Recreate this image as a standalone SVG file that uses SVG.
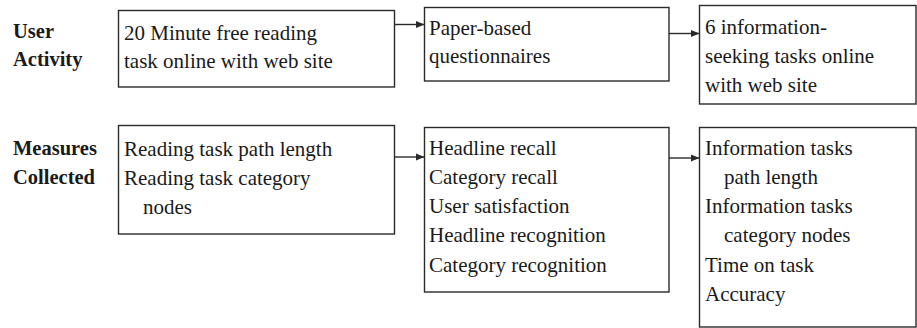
<svg xmlns="http://www.w3.org/2000/svg" width="917" height="328" viewBox="0 0 917 328">
  <style>
    .box { fill: #fff; stroke: #2a2a2a; stroke-width: 1.4; }
    .t { font-family: "Times New Roman", "Liberation Serif", Tinos, "DejaVu Serif", serif; font-size: 21px; fill: #1a1a1a; }
    .lbl { font-family: "Times New Roman", "Liberation Serif", Tinos, "DejaVu Serif", serif; font-size: 20.5px; font-weight: bold; fill: #1a1a1a; }
    .conn { stroke: #2a2a2a; stroke-width: 1.4; fill: none; marker-end: url(#arrow); }
  </style>
  <defs>
    <marker id="arrow" viewBox="0 0 10 10" refX="10" refY="5" markerWidth="9" markerHeight="9" markerUnits="userSpaceOnUse" orient="auto">
      <path d="M0,1 L10,5 L0,9 Z" fill="#2a2a2a"/>
    </marker>
  </defs>
  <rect width="917" height="328" fill="#fff"/>

  <!-- row labels -->
  <g id="label-user-activity">
    <text class="lbl" x="13" y="38">User</text>
    <text class="lbl" x="13" y="66">Activity</text>
  </g>
  <g id="label-measures">
    <text class="lbl" x="13" y="155">Measures</text>
    <text class="lbl" x="13" y="184">Collected</text>
  </g>

  <!-- activity row -->
  <g id="reading-task">
    <rect class="box" x="118.5" y="10.5" width="276" height="76.5"/>
    <text class="t" x="124" y="40">20 Minute free reading</text>
    <text class="t" x="124" y="68">task online with web site</text>
  </g>
  <g id="questionnaires">
    <rect class="box" x="424.5" y="7.5" width="244.5" height="73.5"/>
    <text class="t" x="429" y="35">Paper-based</text>
    <text class="t" x="429" y="63">questionnaires</text>
  </g>
  <g id="info-tasks">
    <rect class="box" x="699.5" y="5.5" width="216.5" height="98.5"/>
    <text class="t" x="705" y="34">6 information-</text>
    <text class="t" x="705" y="63">seeking tasks online</text>
    <text class="t" x="705" y="92">with web site</text>
  </g>

  <!-- measures row -->
  <g id="reading-measures">
    <rect class="box" x="118.5" y="125.5" width="276" height="108.5"/>
    <text class="t" x="124" y="156">Reading task path length</text>
    <text class="t" x="124" y="185">Reading task category</text>
    <text class="t" x="143" y="214">nodes</text>
  </g>
  <g id="questionnaire-measures">
    <rect class="box" x="424.5" y="127.5" width="244.5" height="164.5"/>
    <text class="t" x="429" y="155">Headline recall</text>
    <text class="t" x="429" y="184">Category recall</text>
    <text class="t" x="429" y="213">User satisfaction</text>
    <text class="t" x="429" y="242">Headline recognition</text>
    <text class="t" x="429" y="272">Category recognition</text>
  </g>
  <g id="info-measures">
    <rect class="box" x="699.5" y="127.5" width="216.5" height="199.5"/>
    <text class="t" x="705" y="155">Information tasks</text>
    <text class="t" x="724" y="184">path length</text>
    <text class="t" x="705" y="213">Information tasks</text>
    <text class="t" x="724" y="242">category nodes</text>
    <text class="t" x="705" y="272">Time on task</text>
    <text class="t" x="705" y="301">Accuracy</text>
  </g>

  <!-- connectors -->
  <g id="connectors">
    <line class="conn" x1="394.5" y1="24.5" x2="424.5" y2="24.5"/>
    <line class="conn" x1="669" y1="33.5" x2="699.5" y2="33.5"/>
    <line class="conn" x1="394.5" y1="157" x2="424.5" y2="157"/>
    <line class="conn" x1="669" y1="158" x2="699.5" y2="158"/>
  </g>
</svg>
